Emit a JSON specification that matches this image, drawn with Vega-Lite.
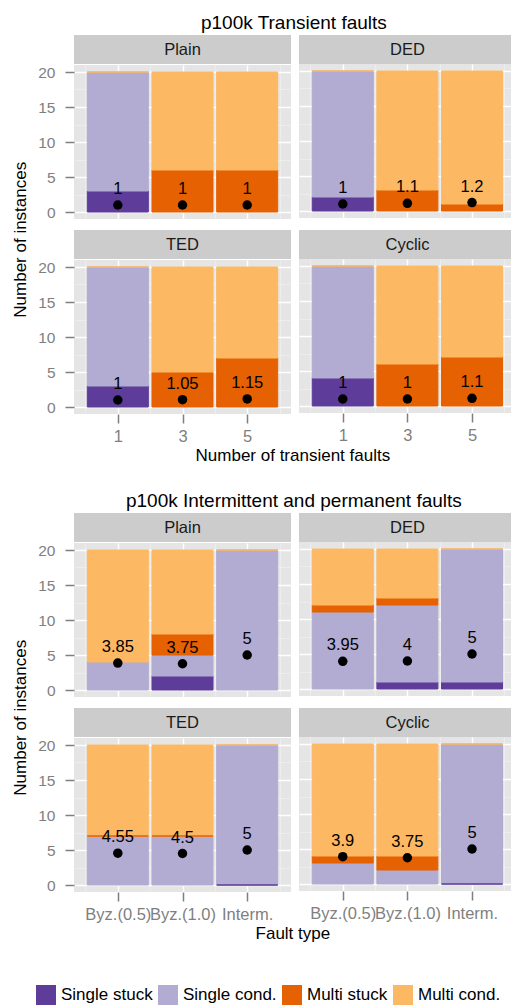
{
"$schema": "https://vega.github.io/schema/vega-lite/v6.json",
"padding": {"left": 11, "top": 14, "right": 0, "bottom": 0},
"autosize": {"type": "pad"},
"background": "#FFFFFF",
"spacing": 28,
"datasets": {
"tb": [
{"scheme":"Plain","faults":"1","pos":1,"outcome":"Single stuck","count":3},
{"scheme":"Plain","faults":"1","pos":1,"outcome":"Single cond.","count":17},
{"scheme":"Plain","faults":"3","pos":2,"outcome":"Multi stuck","count":6},
{"scheme":"Plain","faults":"3","pos":2,"outcome":"Multi cond.","count":14},
{"scheme":"Plain","faults":"5","pos":3,"outcome":"Multi stuck","count":6},
{"scheme":"Plain","faults":"5","pos":3,"outcome":"Multi cond.","count":14},
{"scheme":"Plain","faults":"1","pos":1,"outcome":"Multi cond.","count":0},
{"scheme":"DED","faults":"1","pos":1,"outcome":"Single stuck","count":2},
{"scheme":"DED","faults":"1","pos":1,"outcome":"Single cond.","count":18},
{"scheme":"DED","faults":"3","pos":2,"outcome":"Multi stuck","count":3},
{"scheme":"DED","faults":"3","pos":2,"outcome":"Multi cond.","count":17},
{"scheme":"DED","faults":"5","pos":3,"outcome":"Multi stuck","count":1},
{"scheme":"DED","faults":"5","pos":3,"outcome":"Multi cond.","count":19},
{"scheme":"DED","faults":"1","pos":1,"outcome":"Multi cond.","count":0},
{"scheme":"TED","faults":"1","pos":1,"outcome":"Single stuck","count":3},
{"scheme":"TED","faults":"1","pos":1,"outcome":"Single cond.","count":17},
{"scheme":"TED","faults":"3","pos":2,"outcome":"Multi stuck","count":5},
{"scheme":"TED","faults":"3","pos":2,"outcome":"Multi cond.","count":15},
{"scheme":"TED","faults":"5","pos":3,"outcome":"Multi stuck","count":7},
{"scheme":"TED","faults":"5","pos":3,"outcome":"Multi cond.","count":13},
{"scheme":"TED","faults":"1","pos":1,"outcome":"Multi cond.","count":0},
{"scheme":"Cyclic","faults":"1","pos":1,"outcome":"Single stuck","count":4},
{"scheme":"Cyclic","faults":"1","pos":1,"outcome":"Single cond.","count":16},
{"scheme":"Cyclic","faults":"3","pos":2,"outcome":"Multi stuck","count":6},
{"scheme":"Cyclic","faults":"3","pos":2,"outcome":"Multi cond.","count":14},
{"scheme":"Cyclic","faults":"5","pos":3,"outcome":"Multi stuck","count":7},
{"scheme":"Cyclic","faults":"5","pos":3,"outcome":"Multi cond.","count":13},
{"scheme":"Cyclic","faults":"1","pos":1,"outcome":"Multi cond.","count":0}
],
"tm": [
{"scheme":"Plain","faults":"1","pos":1,"mean":1},
{"scheme":"Plain","faults":"3","pos":2,"mean":1},
{"scheme":"Plain","faults":"5","pos":3,"mean":1},
{"scheme":"DED","faults":"1","pos":1,"mean":1},
{"scheme":"DED","faults":"3","pos":2,"mean":1.1},
{"scheme":"DED","faults":"5","pos":3,"mean":1.2},
{"scheme":"TED","faults":"1","pos":1,"mean":1},
{"scheme":"TED","faults":"3","pos":2,"mean":1.05},
{"scheme":"TED","faults":"5","pos":3,"mean":1.15},
{"scheme":"Cyclic","faults":"1","pos":1,"mean":1},
{"scheme":"Cyclic","faults":"3","pos":2,"mean":1},
{"scheme":"Cyclic","faults":"5","pos":3,"mean":1.1}
],
"ib": [
{"scheme":"Plain","fault":"Byz.(0.5)","pos":1,"outcome":"Single cond.","count":4},
{"scheme":"Plain","fault":"Byz.(0.5)","pos":1,"outcome":"Multi cond.","count":16},
{"scheme":"Plain","fault":"Byz.(1.0)","pos":2,"outcome":"Single stuck","count":2},
{"scheme":"Plain","fault":"Byz.(1.0)","pos":2,"outcome":"Single cond.","count":3},
{"scheme":"Plain","fault":"Byz.(1.0)","pos":2,"outcome":"Multi stuck","count":3},
{"scheme":"Plain","fault":"Byz.(1.0)","pos":2,"outcome":"Multi cond.","count":12},
{"scheme":"Plain","fault":"Interm.","pos":3,"outcome":"Single cond.","count":20},
{"scheme":"Plain","fault":"Interm.","pos":3,"outcome":"Multi cond.","count":0},
{"scheme":"DED","fault":"Byz.(0.5)","pos":1,"outcome":"Single cond.","count":11},
{"scheme":"DED","fault":"Byz.(0.5)","pos":1,"outcome":"Multi stuck","count":1},
{"scheme":"DED","fault":"Byz.(0.5)","pos":1,"outcome":"Multi cond.","count":8},
{"scheme":"DED","fault":"Byz.(1.0)","pos":2,"outcome":"Single stuck","count":1},
{"scheme":"DED","fault":"Byz.(1.0)","pos":2,"outcome":"Single cond.","count":11},
{"scheme":"DED","fault":"Byz.(1.0)","pos":2,"outcome":"Multi stuck","count":1},
{"scheme":"DED","fault":"Byz.(1.0)","pos":2,"outcome":"Multi cond.","count":7},
{"scheme":"DED","fault":"Interm.","pos":3,"outcome":"Single stuck","count":1},
{"scheme":"DED","fault":"Interm.","pos":3,"outcome":"Single cond.","count":19},
{"scheme":"DED","fault":"Interm.","pos":3,"outcome":"Multi cond.","count":0},
{"scheme":"TED","fault":"Byz.(0.5)","pos":1,"outcome":"Single cond.","count":7},
{"scheme":"TED","fault":"Byz.(0.5)","pos":1,"outcome":"Multi cond.","count":13},
{"scheme":"TED","fault":"Byz.(1.0)","pos":2,"outcome":"Single cond.","count":7},
{"scheme":"TED","fault":"Byz.(1.0)","pos":2,"outcome":"Multi cond.","count":13},
{"scheme":"TED","fault":"Interm.","pos":3,"outcome":"Single cond.","count":20},
{"scheme":"TED","fault":"Byz.(0.5)","pos":1,"outcome":"Multi stuck","count":0},
{"scheme":"TED","fault":"Byz.(1.0)","pos":2,"outcome":"Multi stuck","count":0},
{"scheme":"TED","fault":"Interm.","pos":3,"outcome":"Multi cond.","count":0},
{"scheme":"TED","fault":"Interm.","pos":3,"outcome":"Single stuck","count":0},
{"scheme":"Cyclic","fault":"Byz.(0.5)","pos":1,"outcome":"Single cond.","count":3},
{"scheme":"Cyclic","fault":"Byz.(0.5)","pos":1,"outcome":"Multi stuck","count":1},
{"scheme":"Cyclic","fault":"Byz.(0.5)","pos":1,"outcome":"Multi cond.","count":16},
{"scheme":"Cyclic","fault":"Byz.(1.0)","pos":2,"outcome":"Single cond.","count":2},
{"scheme":"Cyclic","fault":"Byz.(1.0)","pos":2,"outcome":"Multi stuck","count":2},
{"scheme":"Cyclic","fault":"Byz.(1.0)","pos":2,"outcome":"Multi cond.","count":16},
{"scheme":"Cyclic","fault":"Interm.","pos":3,"outcome":"Single cond.","count":20},
{"scheme":"Cyclic","fault":"Interm.","pos":3,"outcome":"Multi cond.","count":0},
{"scheme":"Cyclic","fault":"Interm.","pos":3,"outcome":"Single stuck","count":0}
],
"im": [
{"scheme":"Plain","fault":"Byz.(0.5)","pos":1,"mean":3.85},
{"scheme":"Plain","fault":"Byz.(1.0)","pos":2,"mean":3.75},
{"scheme":"Plain","fault":"Interm.","pos":3,"mean":5},
{"scheme":"DED","fault":"Byz.(0.5)","pos":1,"mean":3.95},
{"scheme":"DED","fault":"Byz.(1.0)","pos":2,"mean":4},
{"scheme":"DED","fault":"Interm.","pos":3,"mean":5},
{"scheme":"TED","fault":"Byz.(0.5)","pos":1,"mean":4.55},
{"scheme":"TED","fault":"Byz.(1.0)","pos":2,"mean":4.5},
{"scheme":"TED","fault":"Interm.","pos":3,"mean":5},
{"scheme":"Cyclic","fault":"Byz.(0.5)","pos":1,"mean":3.9},
{"scheme":"Cyclic","fault":"Byz.(1.0)","pos":2,"mean":3.75},
{"scheme":"Cyclic","fault":"Interm.","pos":3,"mean":5}
]
},
"vconcat": [
{
"title": {"text": "p100k Transient faults", "fontSize": 19, "anchor": "middle", "dx": 32, "offset": 2},
"vconcat": [{
"title": {"text": "Number of transient faults", "orient": "bottom", "fontSize": 17, "anchor": "middle", "dx": 31, "offset": 3},
"vconcat": [{
"title": {"text": "Number of instances", "orient": "left", "fontSize": 17, "anchor": "middle", "offset": 8},
"spacing": 9,
"vconcat": [
{"spacing": 8, "hconcat": [
{"spacing": 0, "vconcat": [
{"width": 217, "height": 29, "view": {"fill": "#CCCCCC"}, "data": {"values": [{"s": "Plain"}]}, "mark": {"type": "text", "fontSize": 16.5, "color": "#1A1A1A"}, "encoding": {"text": {"field": "s"}}},
{"width": 217, "height": 154, "resolve": {"axis": {"x": "independent", "y": "independent"}}, "layer": [
{"data": {"name": "tb"}, "transform": [{"filter": "datum.scheme === 'Plain'"}], "mark": {"type": "bar", "orient": "vertical", "width": 61, "strokeWidth": 1},
"encoding": {
"x": {"field": "pos", "type": "quantitative", "title": null, "scale": {"domain": [0.4, 3.6], "nice": false, "zero": false}, "axis": {"values": [1,2,3], "labels": false, "ticks": false, "domain": false, "grid": true, "gridColor": "#FFFFFF", "gridWidth": 1.5, "title": null}},
"y": {"field": "count", "type": "quantitative", "title": null, "stack": "zero", "scale": {"domain": [-1, 21], "nice": false, "zero": false}, "axis": {"values": [0,5,10,15,20], "domain": false, "grid": true, "gridColor": "#FFFFFF", "gridWidth": 1.5, "tickSize": 9, "tickWidth": 1.5, "tickColor": "#7F7F7F", "labelColor": "#7F7F7F", "labelFontSize": 15.5, "labelPadding": 10, "labelOverlap": false, "title": null}},
"color": {"field": "outcome", "type": "nominal", "scale": {"domain": ["Single stuck","Single cond.","Multi stuck","Multi cond."]}, "legend": {"orient": "none", "legendX": -38, "legendY": 950, "direction": "horizontal", "title": null, "symbolType": "square", "symbolSize": 400, "symbolStrokeWidth": 0, "labelFontSize": 17, "labelColor": "#000000", "columnPadding": 5, "labelOffset": 5, "padding": 0}},
"stroke": {"field": "outcome", "type": "nominal", "scale": {"domain": ["Single stuck","Single cond.","Multi stuck","Multi cond."]}, "legend": null},
"order": {"field": "outcome", "sort": "descending"}}},
{"data": {"name": "tm"}, "transform": [{"filter": "datum.scheme === 'Plain'"}], "mark": {"type": "circle", "size": 90, "color": "#000000", "opacity": 1},
"encoding": {"x": {"field": "pos", "type": "quantitative", "title": null, "axis": {"orient": "top", "values": [0.5,1.5,2.5,3.5], "labels": false, "ticks": false, "domain": false, "grid": true, "gridColor": "#F2F2F2", "gridWidth": 0.6, "title": null}}, "y": {"field": "mean", "type": "quantitative", "title": null, "axis": {"orient": "right", "values": [2.5,7.5,12.5,17.5], "labels": false, "ticks": false, "domain": false, "grid": true, "gridColor": "#F2F2F2", "gridWidth": 0.6, "title": null}}}},
{"data": {"name": "tm"}, "transform": [{"filter": "datum.scheme === 'Plain'"}], "mark": {"type": "text", "fontSize": 16.5, "baseline": "alphabetic", "dy": -11, "color": "#000000"},
"encoding": {"x": {"field": "pos", "type": "quantitative", "axis": null}, "y": {"field": "mean", "type": "quantitative", "axis": null}, "text": {"field": "mean", "type": "quantitative", "format": "~g"}}}
]}
]},
{"spacing": 0, "vconcat": [
{"width": 213, "height": 29, "view": {"fill": "#CCCCCC"}, "data": {"values": [{"s": "DED"}]}, "mark": {"type": "text", "fontSize": 16.5, "color": "#1A1A1A", "dx": 2}, "encoding": {"text": {"field": "s"}}},
{"width": 213, "height": 154, "resolve": {"axis": {"x": "independent", "y": "independent"}}, "layer": [
{"data": {"name": "tb"}, "transform": [{"filter": "datum.scheme === 'DED'"}], "mark": {"type": "bar", "orient": "vertical", "width": 61, "strokeWidth": 1},
"encoding": {
"x": {"field": "pos", "type": "quantitative", "title": null, "scale": {"domain": [0.4, 3.5412], "nice": false, "zero": false}, "axis": {"values": [1,2,3], "labels": false, "ticks": false, "domain": false, "grid": true, "gridColor": "#FFFFFF", "gridWidth": 1.5, "title": null}},
"y": {"field": "count", "type": "quantitative", "title": null, "stack": "zero", "scale": {"domain": [-1, 21], "nice": false, "zero": false}, "axis": {"values": [0,5,10,15,20], "labels": false, "ticks": false, "domain": false, "grid": true, "gridColor": "#FFFFFF", "gridWidth": 1.5, "title": null}},
"color": {"field": "outcome", "type": "nominal", "scale": {"domain": ["Single stuck","Single cond.","Multi stuck","Multi cond."]}, "legend": {"orient": "none", "legendX": -38, "legendY": 950, "direction": "horizontal", "title": null, "symbolType": "square", "symbolSize": 400, "symbolStrokeWidth": 0, "labelFontSize": 17, "labelColor": "#000000", "columnPadding": 5, "labelOffset": 5, "padding": 0}},
"stroke": {"field": "outcome", "type": "nominal", "scale": {"domain": ["Single stuck","Single cond.","Multi stuck","Multi cond."]}, "legend": null},
"order": {"field": "outcome", "sort": "descending"}}},
{"data": {"name": "tm"}, "transform": [{"filter": "datum.scheme === 'DED'"}], "mark": {"type": "circle", "size": 90, "color": "#000000", "opacity": 1},
"encoding": {"x": {"field": "pos", "type": "quantitative", "title": null, "axis": {"orient": "top", "values": [0.5,1.5,2.5,3.5], "labels": false, "ticks": false, "domain": false, "grid": true, "gridColor": "#F2F2F2", "gridWidth": 0.6, "title": null}}, "y": {"field": "mean", "type": "quantitative", "title": null, "axis": {"orient": "right", "values": [2.5,7.5,12.5,17.5], "labels": false, "ticks": false, "domain": false, "grid": true, "gridColor": "#F2F2F2", "gridWidth": 0.6, "title": null}}}},
{"data": {"name": "tm"}, "transform": [{"filter": "datum.scheme === 'DED'"}], "mark": {"type": "text", "fontSize": 16.5, "baseline": "alphabetic", "dy": -11, "color": "#000000"},
"encoding": {"x": {"field": "pos", "type": "quantitative", "axis": null}, "y": {"field": "mean", "type": "quantitative", "axis": null}, "text": {"field": "mean", "type": "quantitative", "format": "~g"}}}
]}
]}
]},
{"spacing": 8, "hconcat": [
{"spacing": 0, "vconcat": [
{"width": 217, "height": 29, "view": {"fill": "#CCCCCC"}, "data": {"values": [{"s": "TED"}]}, "mark": {"type": "text", "fontSize": 16.5, "color": "#1A1A1A"}, "encoding": {"text": {"field": "s"}}},
{"width": 217, "height": 154, "resolve": {"axis": {"x": "independent", "y": "independent"}}, "layer": [
{"data": {"name": "tb"}, "transform": [{"filter": "datum.scheme === 'TED'"}], "mark": {"type": "bar", "orient": "vertical", "width": 61, "strokeWidth": 1},
"encoding": {
"x": {"field": "pos", "type": "quantitative", "title": null, "scale": {"domain": [0.4, 3.6], "nice": false, "zero": false}, "axis": {"values": [1,2,3], "labelExpr": "datum.value == 1 ? '1' : datum.value == 2 ? '3' : '5'", "domain": false, "grid": true, "gridColor": "#FFFFFF", "gridWidth": 1.5, "tickSize": 9, "tickWidth": 1.5, "tickColor": "#7F7F7F", "labelColor": "#7F7F7F", "labelFontSize": 16.5, "labelPadding": 5, "labelOverlap": false, "labelFlush": false, "title": null}},
"y": {"field": "count", "type": "quantitative", "title": null, "stack": "zero", "scale": {"domain": [-1, 21], "nice": false, "zero": false}, "axis": {"values": [0,5,10,15,20], "domain": false, "grid": true, "gridColor": "#FFFFFF", "gridWidth": 1.5, "tickSize": 9, "tickWidth": 1.5, "tickColor": "#7F7F7F", "labelColor": "#7F7F7F", "labelFontSize": 15.5, "labelPadding": 10, "labelOverlap": false, "title": null}},
"color": {"field": "outcome", "type": "nominal", "scale": {"domain": ["Single stuck","Single cond.","Multi stuck","Multi cond."]}, "legend": {"orient": "none", "legendX": -38, "legendY": 950, "direction": "horizontal", "title": null, "symbolType": "square", "symbolSize": 400, "symbolStrokeWidth": 0, "labelFontSize": 17, "labelColor": "#000000", "columnPadding": 5, "labelOffset": 5, "padding": 0}},
"stroke": {"field": "outcome", "type": "nominal", "scale": {"domain": ["Single stuck","Single cond.","Multi stuck","Multi cond."]}, "legend": null},
"order": {"field": "outcome", "sort": "descending"}}},
{"data": {"name": "tm"}, "transform": [{"filter": "datum.scheme === 'TED'"}], "mark": {"type": "circle", "size": 90, "color": "#000000", "opacity": 1},
"encoding": {"x": {"field": "pos", "type": "quantitative", "title": null, "axis": {"orient": "top", "values": [0.5,1.5,2.5,3.5], "labels": false, "ticks": false, "domain": false, "grid": true, "gridColor": "#F2F2F2", "gridWidth": 0.6, "title": null}}, "y": {"field": "mean", "type": "quantitative", "title": null, "axis": {"orient": "right", "values": [2.5,7.5,12.5,17.5], "labels": false, "ticks": false, "domain": false, "grid": true, "gridColor": "#F2F2F2", "gridWidth": 0.6, "title": null}}}},
{"data": {"name": "tm"}, "transform": [{"filter": "datum.scheme === 'TED'"}], "mark": {"type": "text", "fontSize": 16.5, "baseline": "alphabetic", "dy": -11, "color": "#000000"},
"encoding": {"x": {"field": "pos", "type": "quantitative", "axis": null}, "y": {"field": "mean", "type": "quantitative", "axis": null}, "text": {"field": "mean", "type": "quantitative", "format": "~g"}}}
]}
]},
{"spacing": 0, "vconcat": [
{"width": 213, "height": 29, "view": {"fill": "#CCCCCC"}, "data": {"values": [{"s": "Cyclic"}]}, "mark": {"type": "text", "fontSize": 16.5, "color": "#1A1A1A", "dx": 2}, "encoding": {"text": {"field": "s"}}},
{"width": 213, "height": 154, "resolve": {"axis": {"x": "independent", "y": "independent"}}, "layer": [
{"data": {"name": "tb"}, "transform": [{"filter": "datum.scheme === 'Cyclic'"}], "mark": {"type": "bar", "orient": "vertical", "width": 61, "strokeWidth": 1},
"encoding": {
"x": {"field": "pos", "type": "quantitative", "title": null, "scale": {"domain": [0.4, 3.5412], "nice": false, "zero": false}, "axis": {"values": [1,2,3], "labelExpr": "datum.value == 1 ? '1' : datum.value == 2 ? '3' : '5'", "domain": false, "grid": true, "gridColor": "#FFFFFF", "gridWidth": 1.5, "tickSize": 9, "tickWidth": 1.5, "tickColor": "#7F7F7F", "labelColor": "#7F7F7F", "labelFontSize": 16.5, "labelPadding": 5, "labelOverlap": false, "labelFlush": false, "title": null}},
"y": {"field": "count", "type": "quantitative", "title": null, "stack": "zero", "scale": {"domain": [-1, 21], "nice": false, "zero": false}, "axis": {"values": [0,5,10,15,20], "labels": false, "ticks": false, "domain": false, "grid": true, "gridColor": "#FFFFFF", "gridWidth": 1.5, "title": null}},
"color": {"field": "outcome", "type": "nominal", "scale": {"domain": ["Single stuck","Single cond.","Multi stuck","Multi cond."]}, "legend": {"orient": "none", "legendX": -38, "legendY": 950, "direction": "horizontal", "title": null, "symbolType": "square", "symbolSize": 400, "symbolStrokeWidth": 0, "labelFontSize": 17, "labelColor": "#000000", "columnPadding": 5, "labelOffset": 5, "padding": 0}},
"stroke": {"field": "outcome", "type": "nominal", "scale": {"domain": ["Single stuck","Single cond.","Multi stuck","Multi cond."]}, "legend": null},
"order": {"field": "outcome", "sort": "descending"}}},
{"data": {"name": "tm"}, "transform": [{"filter": "datum.scheme === 'Cyclic'"}], "mark": {"type": "circle", "size": 90, "color": "#000000", "opacity": 1},
"encoding": {"x": {"field": "pos", "type": "quantitative", "title": null, "axis": {"orient": "top", "values": [0.5,1.5,2.5,3.5], "labels": false, "ticks": false, "domain": false, "grid": true, "gridColor": "#F2F2F2", "gridWidth": 0.6, "title": null}}, "y": {"field": "mean", "type": "quantitative", "title": null, "axis": {"orient": "right", "values": [2.5,7.5,12.5,17.5], "labels": false, "ticks": false, "domain": false, "grid": true, "gridColor": "#F2F2F2", "gridWidth": 0.6, "title": null}}}},
{"data": {"name": "tm"}, "transform": [{"filter": "datum.scheme === 'Cyclic'"}], "mark": {"type": "text", "fontSize": 16.5, "baseline": "alphabetic", "dy": -11, "color": "#000000"},
"encoding": {"x": {"field": "pos", "type": "quantitative", "axis": null}, "y": {"field": "mean", "type": "quantitative", "axis": null}, "text": {"field": "mean", "type": "quantitative", "format": "~g"}}}
]}
]}
]}
]
}]
}]
},
{
"title": {"text": "p100k Intermittent and permanent faults", "fontSize": 19, "anchor": "middle", "dx": 32, "offset": 2},
"vconcat": [{
"title": {"text": "Fault type", "orient": "bottom", "fontSize": 17, "anchor": "middle", "dx": 31, "offset": 3},
"vconcat": [{
"title": {"text": "Number of instances", "orient": "left", "fontSize": 17, "anchor": "middle", "offset": 8},
"spacing": 9,
"vconcat": [
{"spacing": 8, "hconcat": [
{"spacing": 0, "vconcat": [
{"width": 217, "height": 29, "view": {"fill": "#CCCCCC"}, "data": {"values": [{"s": "Plain"}]}, "mark": {"type": "text", "fontSize": 16.5, "color": "#1A1A1A"}, "encoding": {"text": {"field": "s"}}},
{"width": 217, "height": 154, "resolve": {"axis": {"x": "independent", "y": "independent"}}, "layer": [
{"data": {"name": "ib"}, "transform": [{"filter": "datum.scheme === 'Plain'"}], "mark": {"type": "bar", "orient": "vertical", "width": 61, "strokeWidth": 1},
"encoding": {
"x": {"field": "pos", "type": "quantitative", "title": null, "scale": {"domain": [0.4, 3.6], "nice": false, "zero": false}, "axis": {"values": [1,2,3], "labels": false, "ticks": false, "domain": false, "grid": true, "gridColor": "#FFFFFF", "gridWidth": 1.5, "title": null}},
"y": {"field": "count", "type": "quantitative", "title": null, "stack": "zero", "scale": {"domain": [-1, 21], "nice": false, "zero": false}, "axis": {"values": [0,5,10,15,20], "domain": false, "grid": true, "gridColor": "#FFFFFF", "gridWidth": 1.5, "tickSize": 9, "tickWidth": 1.5, "tickColor": "#7F7F7F", "labelColor": "#7F7F7F", "labelFontSize": 15.5, "labelPadding": 10, "labelOverlap": false, "title": null}},
"color": {"field": "outcome", "type": "nominal", "scale": {"domain": ["Single stuck","Single cond.","Multi stuck","Multi cond."]}, "legend": {"orient": "none", "legendX": -38, "legendY": 950, "direction": "horizontal", "title": null, "symbolType": "square", "symbolSize": 400, "symbolStrokeWidth": 0, "labelFontSize": 17, "labelColor": "#000000", "columnPadding": 5, "labelOffset": 5, "padding": 0}},
"stroke": {"field": "outcome", "type": "nominal", "scale": {"domain": ["Single stuck","Single cond.","Multi stuck","Multi cond."]}, "legend": null},
"order": {"field": "outcome", "sort": "descending"}}},
{"data": {"name": "im"}, "transform": [{"filter": "datum.scheme === 'Plain'"}], "mark": {"type": "circle", "size": 90, "color": "#000000", "opacity": 1},
"encoding": {"x": {"field": "pos", "type": "quantitative", "title": null, "axis": {"orient": "top", "values": [0.5,1.5,2.5,3.5], "labels": false, "ticks": false, "domain": false, "grid": true, "gridColor": "#F2F2F2", "gridWidth": 0.6, "title": null}}, "y": {"field": "mean", "type": "quantitative", "title": null, "axis": {"orient": "right", "values": [2.5,7.5,12.5,17.5], "labels": false, "ticks": false, "domain": false, "grid": true, "gridColor": "#F2F2F2", "gridWidth": 0.6, "title": null}}}},
{"data": {"name": "im"}, "transform": [{"filter": "datum.scheme === 'Plain'"}], "mark": {"type": "text", "fontSize": 16.5, "baseline": "alphabetic", "dy": -11, "color": "#000000"},
"encoding": {"x": {"field": "pos", "type": "quantitative", "axis": null}, "y": {"field": "mean", "type": "quantitative", "axis": null}, "text": {"field": "mean", "type": "quantitative", "format": "~g"}}}
]}
]},
{"spacing": 0, "vconcat": [
{"width": 213, "height": 29, "view": {"fill": "#CCCCCC"}, "data": {"values": [{"s": "DED"}]}, "mark": {"type": "text", "fontSize": 16.5, "color": "#1A1A1A", "dx": 2}, "encoding": {"text": {"field": "s"}}},
{"width": 213, "height": 154, "resolve": {"axis": {"x": "independent", "y": "independent"}}, "layer": [
{"data": {"name": "ib"}, "transform": [{"filter": "datum.scheme === 'DED'"}], "mark": {"type": "bar", "orient": "vertical", "width": 61, "strokeWidth": 1},
"encoding": {
"x": {"field": "pos", "type": "quantitative", "title": null, "scale": {"domain": [0.4, 3.5412], "nice": false, "zero": false}, "axis": {"values": [1,2,3], "labels": false, "ticks": false, "domain": false, "grid": true, "gridColor": "#FFFFFF", "gridWidth": 1.5, "title": null}},
"y": {"field": "count", "type": "quantitative", "title": null, "stack": "zero", "scale": {"domain": [-1, 21], "nice": false, "zero": false}, "axis": {"values": [0,5,10,15,20], "labels": false, "ticks": false, "domain": false, "grid": true, "gridColor": "#FFFFFF", "gridWidth": 1.5, "title": null}},
"color": {"field": "outcome", "type": "nominal", "scale": {"domain": ["Single stuck","Single cond.","Multi stuck","Multi cond."]}, "legend": {"orient": "none", "legendX": -38, "legendY": 950, "direction": "horizontal", "title": null, "symbolType": "square", "symbolSize": 400, "symbolStrokeWidth": 0, "labelFontSize": 17, "labelColor": "#000000", "columnPadding": 5, "labelOffset": 5, "padding": 0}},
"stroke": {"field": "outcome", "type": "nominal", "scale": {"domain": ["Single stuck","Single cond.","Multi stuck","Multi cond."]}, "legend": null},
"order": {"field": "outcome", "sort": "descending"}}},
{"data": {"name": "im"}, "transform": [{"filter": "datum.scheme === 'DED'"}], "mark": {"type": "circle", "size": 90, "color": "#000000", "opacity": 1},
"encoding": {"x": {"field": "pos", "type": "quantitative", "title": null, "axis": {"orient": "top", "values": [0.5,1.5,2.5,3.5], "labels": false, "ticks": false, "domain": false, "grid": true, "gridColor": "#F2F2F2", "gridWidth": 0.6, "title": null}}, "y": {"field": "mean", "type": "quantitative", "title": null, "axis": {"orient": "right", "values": [2.5,7.5,12.5,17.5], "labels": false, "ticks": false, "domain": false, "grid": true, "gridColor": "#F2F2F2", "gridWidth": 0.6, "title": null}}}},
{"data": {"name": "im"}, "transform": [{"filter": "datum.scheme === 'DED'"}], "mark": {"type": "text", "fontSize": 16.5, "baseline": "alphabetic", "dy": -11, "color": "#000000"},
"encoding": {"x": {"field": "pos", "type": "quantitative", "axis": null}, "y": {"field": "mean", "type": "quantitative", "axis": null}, "text": {"field": "mean", "type": "quantitative", "format": "~g"}}}
]}
]}
]},
{"spacing": 8, "hconcat": [
{"spacing": 0, "vconcat": [
{"width": 217, "height": 29, "view": {"fill": "#CCCCCC"}, "data": {"values": [{"s": "TED"}]}, "mark": {"type": "text", "fontSize": 16.5, "color": "#1A1A1A"}, "encoding": {"text": {"field": "s"}}},
{"width": 217, "height": 154, "resolve": {"axis": {"x": "independent", "y": "independent"}}, "layer": [
{"data": {"name": "ib"}, "transform": [{"filter": "datum.scheme === 'TED'"}], "mark": {"type": "bar", "orient": "vertical", "width": 61, "strokeWidth": 1},
"encoding": {
"x": {"field": "pos", "type": "quantitative", "title": null, "scale": {"domain": [0.4, 3.6], "nice": false, "zero": false}, "axis": {"values": [1,2,3], "labelExpr": "datum.value == 1 ? 'Byz.(0.5)' : datum.value == 2 ? 'Byz.(1.0)' : 'Interm.'", "domain": false, "grid": true, "gridColor": "#FFFFFF", "gridWidth": 1.5, "tickSize": 9, "tickWidth": 1.5, "tickColor": "#7F7F7F", "labelColor": "#7F7F7F", "labelFontSize": 16.5, "labelPadding": 5, "labelOverlap": false, "labelFlush": false, "title": null}},
"y": {"field": "count", "type": "quantitative", "title": null, "stack": "zero", "scale": {"domain": [-1, 21], "nice": false, "zero": false}, "axis": {"values": [0,5,10,15,20], "domain": false, "grid": true, "gridColor": "#FFFFFF", "gridWidth": 1.5, "tickSize": 9, "tickWidth": 1.5, "tickColor": "#7F7F7F", "labelColor": "#7F7F7F", "labelFontSize": 15.5, "labelPadding": 10, "labelOverlap": false, "title": null}},
"color": {"field": "outcome", "type": "nominal", "scale": {"domain": ["Single stuck","Single cond.","Multi stuck","Multi cond."]}, "legend": {"orient": "none", "legendX": -38, "legendY": 950, "direction": "horizontal", "title": null, "symbolType": "square", "symbolSize": 400, "symbolStrokeWidth": 0, "labelFontSize": 17, "labelColor": "#000000", "columnPadding": 5, "labelOffset": 5, "padding": 0}},
"stroke": {"field": "outcome", "type": "nominal", "scale": {"domain": ["Single stuck","Single cond.","Multi stuck","Multi cond."]}, "legend": null},
"order": {"field": "outcome", "sort": "descending"}}},
{"data": {"name": "im"}, "transform": [{"filter": "datum.scheme === 'TED'"}], "mark": {"type": "circle", "size": 90, "color": "#000000", "opacity": 1},
"encoding": {"x": {"field": "pos", "type": "quantitative", "title": null, "axis": {"orient": "top", "values": [0.5,1.5,2.5,3.5], "labels": false, "ticks": false, "domain": false, "grid": true, "gridColor": "#F2F2F2", "gridWidth": 0.6, "title": null}}, "y": {"field": "mean", "type": "quantitative", "title": null, "axis": {"orient": "right", "values": [2.5,7.5,12.5,17.5], "labels": false, "ticks": false, "domain": false, "grid": true, "gridColor": "#F2F2F2", "gridWidth": 0.6, "title": null}}}},
{"data": {"name": "im"}, "transform": [{"filter": "datum.scheme === 'TED'"}], "mark": {"type": "text", "fontSize": 16.5, "baseline": "alphabetic", "dy": -11, "color": "#000000"},
"encoding": {"x": {"field": "pos", "type": "quantitative", "axis": null}, "y": {"field": "mean", "type": "quantitative", "axis": null}, "text": {"field": "mean", "type": "quantitative", "format": "~g"}}}
]}
]},
{"spacing": 0, "vconcat": [
{"width": 213, "height": 29, "view": {"fill": "#CCCCCC"}, "data": {"values": [{"s": "Cyclic"}]}, "mark": {"type": "text", "fontSize": 16.5, "color": "#1A1A1A", "dx": 2}, "encoding": {"text": {"field": "s"}}},
{"width": 213, "height": 154, "resolve": {"axis": {"x": "independent", "y": "independent"}}, "layer": [
{"data": {"name": "ib"}, "transform": [{"filter": "datum.scheme === 'Cyclic'"}], "mark": {"type": "bar", "orient": "vertical", "width": 61, "strokeWidth": 1},
"encoding": {
"x": {"field": "pos", "type": "quantitative", "title": null, "scale": {"domain": [0.4, 3.5412], "nice": false, "zero": false}, "axis": {"values": [1,2,3], "labelExpr": "datum.value == 1 ? 'Byz.(0.5)' : datum.value == 2 ? 'Byz.(1.0)' : 'Interm.'", "domain": false, "grid": true, "gridColor": "#FFFFFF", "gridWidth": 1.5, "tickSize": 9, "tickWidth": 1.5, "tickColor": "#7F7F7F", "labelColor": "#7F7F7F", "labelFontSize": 16.5, "labelPadding": 5, "labelOverlap": false, "labelFlush": false, "title": null}},
"y": {"field": "count", "type": "quantitative", "title": null, "stack": "zero", "scale": {"domain": [-1, 21], "nice": false, "zero": false}, "axis": {"values": [0,5,10,15,20], "labels": false, "ticks": false, "domain": false, "grid": true, "gridColor": "#FFFFFF", "gridWidth": 1.5, "title": null}},
"color": {"field": "outcome", "type": "nominal", "scale": {"domain": ["Single stuck","Single cond.","Multi stuck","Multi cond."]}, "legend": {"orient": "none", "legendX": -38, "legendY": 950, "direction": "horizontal", "title": null, "symbolType": "square", "symbolSize": 400, "symbolStrokeWidth": 0, "labelFontSize": 17, "labelColor": "#000000", "columnPadding": 5, "labelOffset": 5, "padding": 0}},
"stroke": {"field": "outcome", "type": "nominal", "scale": {"domain": ["Single stuck","Single cond.","Multi stuck","Multi cond."]}, "legend": null},
"order": {"field": "outcome", "sort": "descending"}}},
{"data": {"name": "im"}, "transform": [{"filter": "datum.scheme === 'Cyclic'"}], "mark": {"type": "circle", "size": 90, "color": "#000000", "opacity": 1},
"encoding": {"x": {"field": "pos", "type": "quantitative", "title": null, "axis": {"orient": "top", "values": [0.5,1.5,2.5,3.5], "labels": false, "ticks": false, "domain": false, "grid": true, "gridColor": "#F2F2F2", "gridWidth": 0.6, "title": null}}, "y": {"field": "mean", "type": "quantitative", "title": null, "axis": {"orient": "right", "values": [2.5,7.5,12.5,17.5], "labels": false, "ticks": false, "domain": false, "grid": true, "gridColor": "#F2F2F2", "gridWidth": 0.6, "title": null}}}},
{"data": {"name": "im"}, "transform": [{"filter": "datum.scheme === 'Cyclic'"}], "mark": {"type": "text", "fontSize": 16.5, "baseline": "alphabetic", "dy": -11, "color": "#000000"},
"encoding": {"x": {"field": "pos", "type": "quantitative", "axis": null}, "y": {"field": "mean", "type": "quantitative", "axis": null}, "text": {"field": "mean", "type": "quantitative", "format": "~g"}}}
]}
]}
]}
]
}]
}]
}
],
"config": {
"font": "Liberation Sans",
"view": {"fill": "#E5E5E5", "stroke": null},
"title": {"fontWeight": "normal", "color": "#000000"},
"axis": {"domain": false},
"range": {"category": ["#5E3C99","#B2ABD2","#E66101","#FDB863"]}
}
}
